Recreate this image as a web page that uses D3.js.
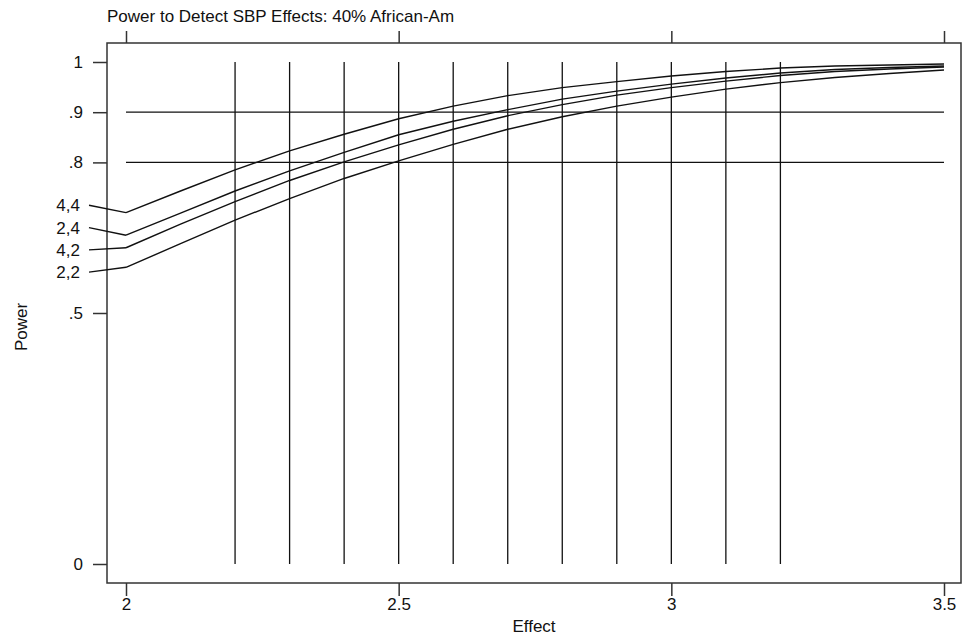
<!DOCTYPE html>
<html>
<head>
<meta charset="utf-8">
<script src="https://cdn.jsdelivr.net/npm/d3@7"></script>
<style>
  html, body { margin: 0; padding: 0; background: #fff; }
  svg { display: block; font-family: "Liberation Sans", Arial, sans-serif; }
</style>
</head>
<body>
<svg id="chart" width="963" height="637"></svg>
<script>
// ---- data ----
const titleText = "Power to Detect SBP Effects: 40% African-Am";
const xTitle = "Effect";
const yTitle = "Power";
const effect = [2.0, 2.1, 2.2, 2.3, 2.4, 2.5, 2.6, 2.7, 2.8, 2.9, 3.0, 3.1, 3.2, 3.3, 3.4, 3.5];
const power44 = [0.700, 0.743, 0.785, 0.823, 0.856, 0.887, 0.912, 0.933, 0.949, 0.961, 0.972, 0.981, 0.988, 0.992, 0.994, 0.996];
const power24 = [0.655, 0.699, 0.743, 0.783, 0.820, 0.855, 0.882, 0.905, 0.926, 0.942, 0.956, 0.968, 0.978, 0.985, 0.989, 0.992];
const power42 = [0.630, 0.677, 0.722, 0.764, 0.801, 0.835, 0.866, 0.893, 0.915, 0.934, 0.949, 0.962, 0.973, 0.981, 0.986, 0.990];
const power22 = [0.591, 0.638, 0.685, 0.728, 0.768, 0.803, 0.836, 0.866, 0.891, 0.912, 0.930, 0.946, 0.959, 0.969, 0.977, 0.984];
const seriesNames = ["4,4", "2,4", "4,2", "2,2"];
const seriesValues = [power44, power24, power42, power22];
const xTicks = [2, 2.5, 3, 3.5];
const xTickLabels = ["2", "2.5", "3", "3.5"];
const yTicks = [0, 0.5, 0.8, 0.9, 1];
const yTickLabels = ["0", ".5", ".8", ".9", "1"];
const vRefLines = [2.2, 2.3, 2.4, 2.5, 2.6, 2.7, 2.8, 2.9, 3.0, 3.1, 3.2];
const hRefLines = [0.8, 0.9];

// ---- layout ----
const svg = d3.select("#chart");
const frame = { left: 107, top: 43, right: 961, bottom: 583 };
const x = d3.scaleLinear().domain([2, 3.5]).range([126, 944]);
const y = d3.scaleLinear().domain([0, 1]).range([564, 62]);
const ink = "#111";
const frameInk = "#333";
const fs = 17;

// frame
svg.append("rect")
  .attr("x", frame.left).attr("y", frame.top)
  .attr("width", frame.right - frame.left).attr("height", frame.bottom - frame.top)
  .attr("fill", "none").attr("stroke", frameInk).attr("stroke-width", 1.5);

// bottom axis
const xAxisB = d3.axisBottom(x).tickValues(xTicks).tickFormat((d, i) => xTickLabels[i])
  .tickSize(13).tickSizeOuter(0).tickPadding(2);
const gxb = svg.append("g").attr("transform", `translate(0,${frame.bottom})`).call(xAxisB);
gxb.select(".domain").remove();
gxb.selectAll(".tick line").attr("stroke", frameInk).attr("stroke-width", 1.5);
gxb.selectAll(".tick text").attr("font-size", fs).attr("fill", ink)
  .attr("font-family", "'Liberation Sans', Arial, sans-serif");

// top axis (ticks only)
const xAxisT = d3.axisTop(x).tickValues(xTicks).tickFormat("").tickSize(12).tickSizeOuter(0);
const gxt = svg.append("g").attr("transform", `translate(0,${frame.top})`).call(xAxisT);
gxt.select(".domain").remove();
gxt.selectAll(".tick line").attr("stroke", frameInk).attr("stroke-width", 1.5);

// left axis
const yAxis = d3.axisLeft(y).tickValues(yTicks).tickFormat((d, i) => yTickLabels[i])
  .tickSize(14).tickSizeOuter(0).tickPadding(10);
const gy = svg.append("g").attr("transform", `translate(${frame.left},0)`).call(yAxis);
gy.select(".domain").remove();
gy.selectAll(".tick line").attr("stroke", frameInk).attr("stroke-width", 1.5);
gy.selectAll(".tick text").attr("font-size", fs).attr("fill", ink)
  .attr("font-family", "'Liberation Sans', Arial, sans-serif");

// reference lines
svg.append("g").selectAll("line").data(vRefLines).join("line")
  .attr("x1", d => x(d)).attr("x2", d => x(d))
  .attr("y1", y(1)).attr("y2", y(0))
  .attr("stroke", ink).attr("stroke-width", 1.3);
svg.append("g").selectAll("line").data(hRefLines).join("line")
  .attr("x1", x(2)).attr("x2", x(3.5))
  .attr("y1", d => y(d)).attr("y2", d => y(d))
  .attr("stroke", ink).attr("stroke-width", 1.3);

// curves
const line = d3.line().x((d, i) => x(effect[i])).y(d => y(d));
svg.append("g").selectAll("path").data(seriesValues).join("path")
  .attr("d", d => line(d))
  .attr("fill", "none").attr("stroke", ink).attr("stroke-width", 1.4);

// series labels on left, evenly spaced around the mean start position
const startYs = seriesValues.map(v => y(v[0]));
const meanY = d3.mean(startYs) - 2;
const gap = 22.3;
const labelYs = startYs.map((_, i) => meanY + (i - (startYs.length - 1) / 2) * gap);
const lab = svg.append("g");
seriesNames.forEach((name, i) => {
  lab.append("line")
    .attr("x1", 89).attr("y1", labelYs[i])
    .attr("x2", x(effect[0])).attr("y2", startYs[i])
    .attr("stroke", ink).attr("stroke-width", 1.4);
  lab.append("text")
    .attr("x", 80).attr("y", labelYs[i]).attr("dy", "0.35em")
    .attr("text-anchor", "end").attr("font-size", fs).attr("fill", ink)
    .text(name);
});

// titles
svg.append("text").attr("x", 107).attr("y", 22)
  .attr("font-size", fs).attr("fill", ink).text(titleText);
svg.append("text").attr("x", (frame.left + frame.right) / 2).attr("y", 632)
  .attr("text-anchor", "middle").attr("font-size", fs).attr("fill", ink).text(xTitle);
svg.append("text")
  .attr("transform", `translate(27,327) rotate(-90)`)
  .attr("text-anchor", "middle").attr("font-size", fs).attr("fill", ink).text(yTitle);
</script>
</body>
</html>
